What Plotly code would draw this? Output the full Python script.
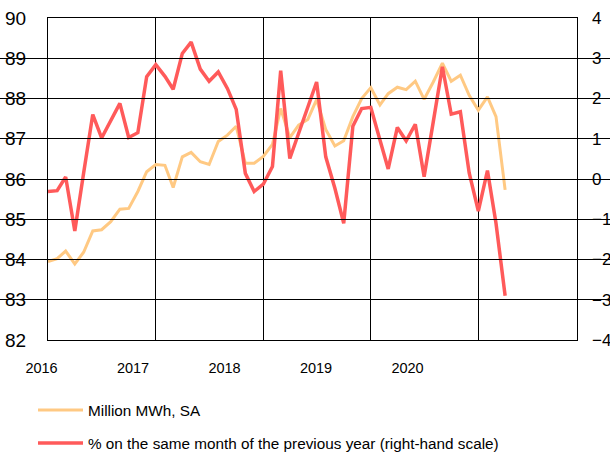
import plotly.graph_objects as go

# ---- data ----
months = [f"{y}-{m:02d}-01" for y in range(2016, 2021) for m in range(1, 13)][:52]

mwh_sa = [83.95, 84.02, 84.21, 83.89, 84.18, 84.71, 84.74, 84.94, 85.25, 85.27, 85.69, 86.18,
          86.36, 86.34, 85.79, 86.55, 86.66, 86.43, 86.36, 86.93, 87.09, 87.31, 86.39, 86.39,
          86.56, 86.86, 87.75, 87.03, 87.34, 87.48, 87.97, 87.23, 86.82, 86.95, 87.55, 88.00,
          88.27, 87.84, 88.12, 88.28, 88.22, 88.43, 87.98, 88.41, 88.88, 88.43, 88.58, 88.08,
          87.71, 88.04, 87.55, 85.73]

yoy_pct = [-0.31, -0.29, 0.05, -1.29, 0.15, 1.60, 1.02, 1.46, 1.88, 1.03, 1.15, 2.54,
           2.84, 2.55, 2.23, 3.12, 3.40, 2.73, 2.43, 2.66, 2.25, 1.73, 0.14, -0.31,
           -0.13, 0.31, 2.69, 0.51, 1.15, 1.78, 2.41, 0.55, -0.23, -1.10, 1.31, 1.75,
           1.78, 0.97, 0.25, 1.28, 0.95, 1.36, 0.06, 1.42, 2.79, 1.61, 1.67, 0.15,
           -0.80, 0.21, -1.10, -2.90]

year_labels = ["2016", "2017", "2018", "2019", "2020"]
year_label_pos = [2016, 2017, 2018, 2019, 2020]
year_grid = ["2016-01-01", "2017-01-01", "2018-01-01", "2019-01-01", "2020-01-01"]
left_ticks = [82, 83, 84, 85, 86, 87, 88, 89, 90]
right_ticks = [-4, -3, -2, -1, 0, 1, 2, 3, 4]

series_names = ["Million MWh, SA",
                "% on the same month of the previous year (right-hand scale)"]

ORANGE = "#FFC983"
RED = "#FF5A5A"
FONT = "Liberation Sans, Arial, sans-serif"

fig = go.Figure()
fig.add_trace(go.Scatter(x=months, y=mwh_sa, mode="lines", name=series_names[0],
                         line=dict(color=ORANGE, width=3), legend="legend",
                         hoverinfo="skip"))
fig.add_trace(go.Scatter(x=months, y=yoy_pct, mode="lines", name=series_names[1],
                         line=dict(color=RED, width=3.5), yaxis="y2", legend="legend2",
                         hoverinfo="skip"))
# empty trace that carries the year-label axis
fig.add_trace(go.Scatter(x=[year_label_pos[0], year_label_pos[-1]], y=[None, None],
                         xaxis="x2", yaxis="y", mode="lines", showlegend=False,
                         hoverinfo="skip"))

fig.update_layout(
    template="none",
    width=610, height=452,
    margin=dict(l=0, r=0, t=18, b=112),
    paper_bgcolor="white",
    plot_bgcolor="rgba(0,0,0,0)",
    showlegend=True,
    xaxis=dict(
        type="date", domain=[48 / 610, 577 / 610],
        range=["2016-01-01", "2020-12-01"],
        tickvals=year_grid, showticklabels=False, ticks="",
        showgrid=True, gridcolor="black", gridwidth=1,
        showline=True, linecolor="black", linewidth=1, mirror=True,
        zeroline=False, automargin=False,
    ),
    xaxis2=dict(
        type="linear", domain=[0, 1], anchor="y",
        range=[2015.546, 2022.213],
        tickvals=year_label_pos, ticktext=year_labels, ticks="",
        showgrid=False, showline=False, zeroline=False,
        ticklabelstandoff=17, automargin=False,
        tickfont=dict(family=FONT, size=14.5, color="black"),
    ),
    yaxis=dict(
        range=[82, 90], tickvals=left_ticks, ticks="",
        showgrid=True, gridcolor="black", gridwidth=1,
        showline=True, linecolor="black", linewidth=1, mirror=True,
        zeroline=False, automargin=False, ticklabelstandoff=17,
        tickfont=dict(family=FONT, size=19, color="black"),
    ),
    yaxis2=dict(
        range=[-4, 4], tickvals=right_ticks, ticks="",
        overlaying="y", side="right", anchor="x",
        showgrid=False, showline=False, zeroline=False,
        automargin=False, ticklabelstandoff=14,
        tickfont=dict(family=FONT, size=17, color="black"),
    ),
    legend=dict(
        x=33 / 610, xanchor="left", y=1 - 410 / 452, yref="container", yanchor="middle",
        itemwidth=45, bgcolor="rgba(0,0,0,0)", borderwidth=0,
        font=dict(family=FONT, size=15.3, color="black"),
    ),
    legend2=dict(
        x=33 / 610, xanchor="left", y=1 - 443 / 452, yref="container", yanchor="middle",
        itemwidth=45, bgcolor="rgba(0,0,0,0)", borderwidth=0,
        font=dict(family=FONT, size=15.3, color="black"),
    ),
)

fig.write_html("out.html", config={"displayModeBar": False},
               post_script="document.body.style.margin='0';")
